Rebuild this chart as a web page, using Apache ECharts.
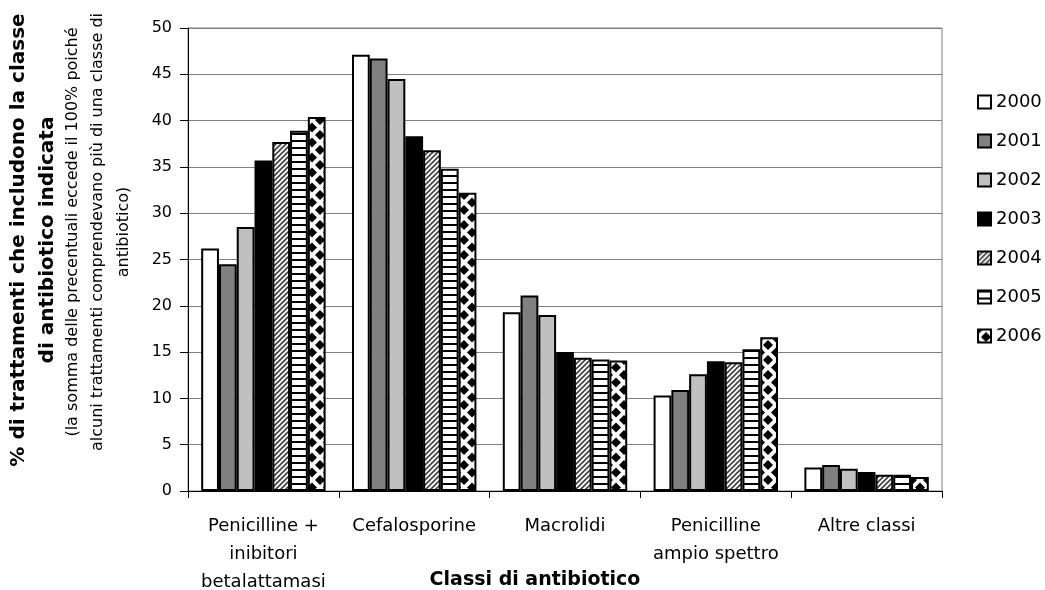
<!DOCTYPE html>
<html>
<head>
<meta charset="utf-8">
<script src="https://cdn.jsdelivr.net/npm/echarts@6/dist/echarts.min.js"></script>
<style>
html,body{margin:0;padding:0;background:#fff;}
#chart{width:1045px;height:590px;}
</style>
</head>
<body>
<div id="chart"></div>
<script>
// ---- Data ----
const categories = ['Penicilline +\ninibitori\nbetalattamasi', 'Cefalosporine', 'Macrolidi', 'Penicilline\nampio spettro', 'Altre classi'];
const years = ['2000', '2001', '2002', '2003', '2004', '2005', '2006'];
const v2000 = [26.2, 47.1, 19.3, 10.3, 2.55];
const v2001 = [24.5, 46.7, 21.1, 10.9, 2.8];
const v2002 = [28.5, 44.5, 19.0, 12.6, 2.4];
const v2003 = [35.7, 38.3, 15.0, 14.0, 2.05];
const v2004 = [37.7, 36.8, 14.4, 13.9, 1.75];
const v2005 = [38.9, 34.8, 14.2, 15.3, 1.75];
const v2006 = [40.4, 32.2, 14.1, 16.6, 1.5];
const yTicks = [0, 5, 10, 15, 20, 25, 30, 35, 40, 45, 50];
const seriesValues = [v2000, v2001, v2002, v2003, v2004, v2005, v2006];

// ---- Patterns ----
function makeTile(w, h, draw) {
  const c = document.createElement('canvas');
  c.width = w; c.height = h;
  const ctx = c.getContext('2d');
  ctx.fillStyle = '#fff';
  ctx.fillRect(0, 0, w, h);
  draw(ctx, w, h);
  return c;
}
const diagTile = makeTile(5, 5, (ctx, w, h) => {
  ctx.strokeStyle = '#444';
  ctx.lineWidth = 1.7;
  for (let k = -1; k <= 1; k++) {
    ctx.beginPath();
    ctx.moveTo(k * w - 1, h + 1);
    ctx.lineTo(k * w + w + 1, -1);
    ctx.stroke();
  }
});
const hTile = makeTile(4, 7, (ctx, w, h) => {
  ctx.fillStyle = '#000';
  ctx.fillRect(0, 0, w, 2);
});
const diamondTile = makeTile(16, 15, (ctx, w, h) => {
  ctx.fillStyle = '#000';
  const d = (cx, cy, r) => {
    ctx.beginPath();
    ctx.moveTo(cx, cy - r);
    ctx.lineTo(cx + r, cy);
    ctx.lineTo(cx, cy + r);
    ctx.lineTo(cx - r, cy);
    ctx.closePath();
    ctx.fill();
  };
  d(w / 2, h / 2, 5);
  d(0, 0, 5); d(w, 0, 5); d(0, h, 5); d(w, h, 5);
});

const fills = [
  '#ffffff',
  '#808080',
  '#c0c0c0',
  '#000000',
  { image: diagTile, repeat: 'repeat' },
  { image: hTile, repeat: 'repeat' },
  { image: diamondTile, repeat: 'repeat' }
];

const FONT = 'DejaVu Sans';

const chart = echarts.init(document.getElementById('chart'), null, { renderer: 'canvas' });

const series = years.map((y, i) => ({
  name: y,
  type: 'bar',
  data: seriesValues[i],
  barGap: '0%',
  barCategoryGap: '17.5%',
  itemStyle: {
    color: fills[i],
    borderColor: '#000',
    borderWidth: 2
  },
  emphasis: { disabled: true },
  animation: false
}));

const titleBold = ['% di trattamenti che includono la classe', 'di antibiotico indicata'];
const titleNote = ['(la somma delle precentuali eccede il 100% poiché', 'alcuni trattamenti comprendevano più di una classe di', 'antibiotico)'];
const boldX = [19, 48];
const noteX = [73, 98, 124];
const graphics = [];
titleBold.forEach((t, i) => graphics.push({
  type: 'text', x: boldX[i], y: 240, rotation: Math.PI / 2,
  style: { text: t, font: 'bold 20px "' + FONT + '"', fill: '#000', textAlign: 'center', textVerticalAlign: 'middle' }
}));
titleNote.forEach((t, i) => graphics.push({
  type: 'text', x: noteX[i], y: 232, rotation: Math.PI / 2,
  style: { text: t, font: '16px "' + FONT + '"', fill: '#000', textAlign: 'center', textVerticalAlign: 'middle' }
}));
graphics.push({
  type: 'text', x: 535, y: 580,
  style: { text: 'Classi di antibiotico', font: 'bold 19px "' + FONT + '"', fill: '#000', textAlign: 'center', textVerticalAlign: 'middle' }
});

chart.setOption({
  backgroundColor: '#fff',
  animation: false,
  textStyle: { fontFamily: FONT },
  grid: {
    left: 188, right: 103, top: 28, bottom: 99,
    outerBoundsMode: 'none',
    containLabel: false,
    show: true, borderColor: '#808080', borderWidth: 1, backgroundColor: '#fff'
  },
  legend: {
    orient: 'vertical',
    left: 972, top: 88,
    itemWidth: 13, itemHeight: 13, itemGap: 21,
    icon: 'rect',
    selectedMode: false,
    textStyle: { fontFamily: FONT, fontSize: 18, color: '#000', lineHeight: 18 },
    data: years
  },
  xAxis: {
    type: 'category',
    data: categories,
    axisLine: { lineStyle: { color: '#000', width: 1 } },
    axisTick: { show: true, length: 7, lineStyle: { color: '#000' } },
    axisLabel: { fontFamily: FONT, fontSize: 18, color: '#000', lineHeight: 28, margin: 21, interval: 0 },
    splitLine: { show: false }
  },
  yAxis: {
    type: 'value',
    min: yTicks[0], max: yTicks[yTicks.length - 1], interval: 5,
    axisLine: { show: true, lineStyle: { color: '#000', width: 1 } },
    axisTick: { show: true, length: 8, lineStyle: { color: '#000' } },
    axisLabel: { fontFamily: FONT, fontSize: 16, color: '#000', margin: 16 },
    splitLine: { show: true, lineStyle: { color: '#808080', width: 1 } }
  },
  graphic: graphics,
  series: series
});
</script>
</body>
</html>
